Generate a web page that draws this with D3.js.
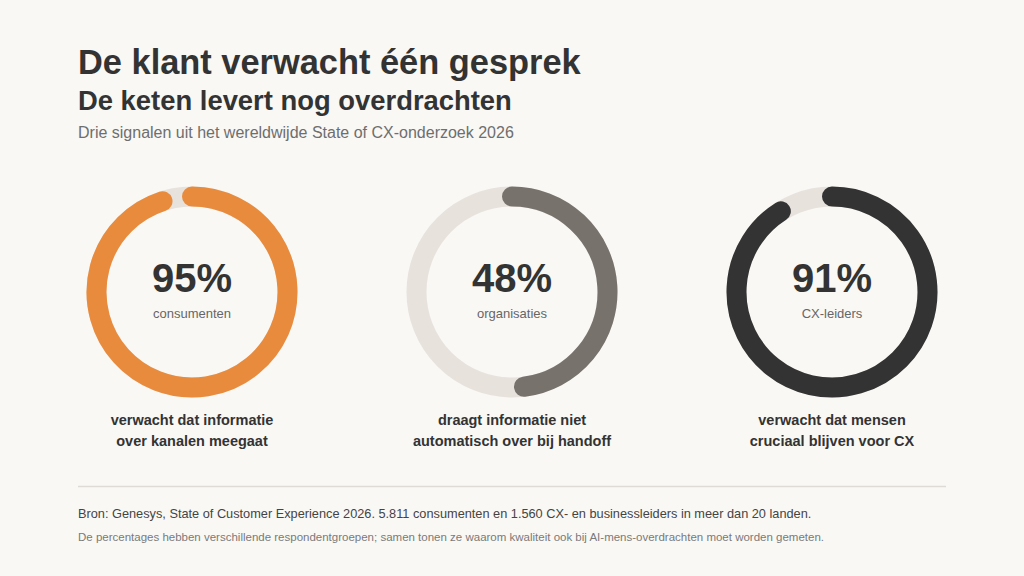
<!DOCTYPE html>
<html>
<head>
<meta charset="utf-8">
<script src="https://cdn.jsdelivr.net/npm/d3@7"></script>
<style>
  html, body { margin: 0; padding: 0; background: #f9f8f5; }
  svg { display: block; font-family: "Liberation Sans", Arial, Helvetica, sans-serif; }
</style>
</head>
<body>
<svg width="1024" height="576"></svg>
<script>
const w = 1024;
const h = 576;

// data
const keys = ['consumenten', 'organisaties', 'cxleiders'];
const values = [95, 48, 91];
const groups = ['consumenten', 'organisaties', 'CX-leiders'];
const captions = [
  ['verwacht dat informatie', 'over kanalen meegaat'],
  ['draagt informatie niet', 'automatisch over bij handoff'],
  ['verwacht dat mensen', 'cruciaal blijven voor CX']
];
const colors = ['#e98b3d', '#77726c', '#333333'];

const title = 'De klant verwacht één gesprek';
const subtitle = 'De keten levert nog overdrachten';
const intro = 'Drie signalen uit het wereldwijde State of CX-onderzoek 2026';
const source = 'Bron: Genesys, State of Customer Experience 2026. 5.811 consumenten en 1.560 CX- en businessleiders in meer dan 20 landen.';
const note = 'De percentages hebben verschillende respondentgroepen; samen tonen ze waarom kwaliteit ook bij AI-mens-overdrachten moet worden gemeten.';

const svg = d3.select('svg');

svg.append('rect')
  .attr('width', w)
  .attr('height', h)
  .attr('fill', '#f9f8f5');

// headings
svg.append('text')
  .attr('x', 78).attr('y', 74)
  .attr('font-size', 34.4).attr('font-weight', 700)
  .attr('fill', '#333333')
  .text(title);

svg.append('text')
  .attr('x', 78).attr('y', 110)
  .attr('font-size', 27.4).attr('font-weight', 700)
  .attr('fill', '#333333')
  .text(subtitle);

svg.append('text')
  .attr('x', 78).attr('y', 138)
  .attr('font-size', 16)
  .attr('fill', '#6e6e6e')
  .text(intro);

// rings
const xScale = d3.scalePoint().domain(keys).range([192, 832]);
const angle = d3.scaleLinear().domain([0, 100]).range([0, 2 * Math.PI]);
const cy = 292;
const r = 95.5;
const ringWidth = 20;

const data = keys.map((k, i) => ({
  key: k,
  value: values[i],
  group: groups[i],
  caption: captions[i],
  color: colors[i]
}));

const rings = svg.append('g')
  .selectAll('g')
  .data(data)
  .enter()
  .append('g')
  .attr('transform', d => `translate(${xScale(d.key)},${cy})`);

// grey track
rings.append('circle')
  .attr('r', r)
  .attr('fill', 'none')
  .attr('stroke', '#e7e2dc')
  .attr('stroke-width', ringWidth);

// value arc, clockwise from 12 o'clock, round caps
rings.append('path')
  .attr('d', d => {
    const p = d3.path();
    const a0 = -Math.PI / 2;
    const a1 = a0 + angle(d.value);
    p.moveTo(r * Math.cos(a0), r * Math.sin(a0));
    p.arc(0, 0, r, a0, a1);
    return p.toString();
  })
  .attr('fill', 'none')
  .attr('stroke', d => d.color)
  .attr('stroke-width', ringWidth)
  .attr('stroke-linecap', 'round');

rings.append('text')
  .attr('text-anchor', 'middle')
  .attr('y', 0)
  .attr('font-size', 40).attr('font-weight', 700)
  .attr('fill', '#333333')
  .text(d => d.value + '%');

rings.append('text')
  .attr('text-anchor', 'middle')
  .attr('y', 26)
  .attr('font-size', 13)
  .attr('fill', '#666666')
  .text(d => d.group);

rings.append('text')
  .attr('text-anchor', 'middle')
  .attr('font-size', 14.5).attr('font-weight', 700)
  .attr('fill', '#333333')
  .selectAll('tspan')
  .data(d => d.caption)
  .enter()
  .append('tspan')
  .attr('x', 0)
  .attr('y', (d, i) => 133 + i * 21)
  .text(d => d);

// footer
svg.append('line')
  .attr('x1', 78).attr('x2', 946)
  .attr('y1', 486.5).attr('y2', 486.5)
  .attr('stroke', '#dedad4')
  .attr('stroke-width', 1.5);

svg.append('text')
  .attr('x', 78).attr('y', 518)
  .attr('font-size', 12.75)
  .attr('fill', '#444444')
  .text(source);

svg.append('text')
  .attr('x', 78).attr('y', 541)
  .attr('font-size', 11.5)
  .attr('fill', '#7a7a7a')
  .text(note);
</script>
</body>
</html>
